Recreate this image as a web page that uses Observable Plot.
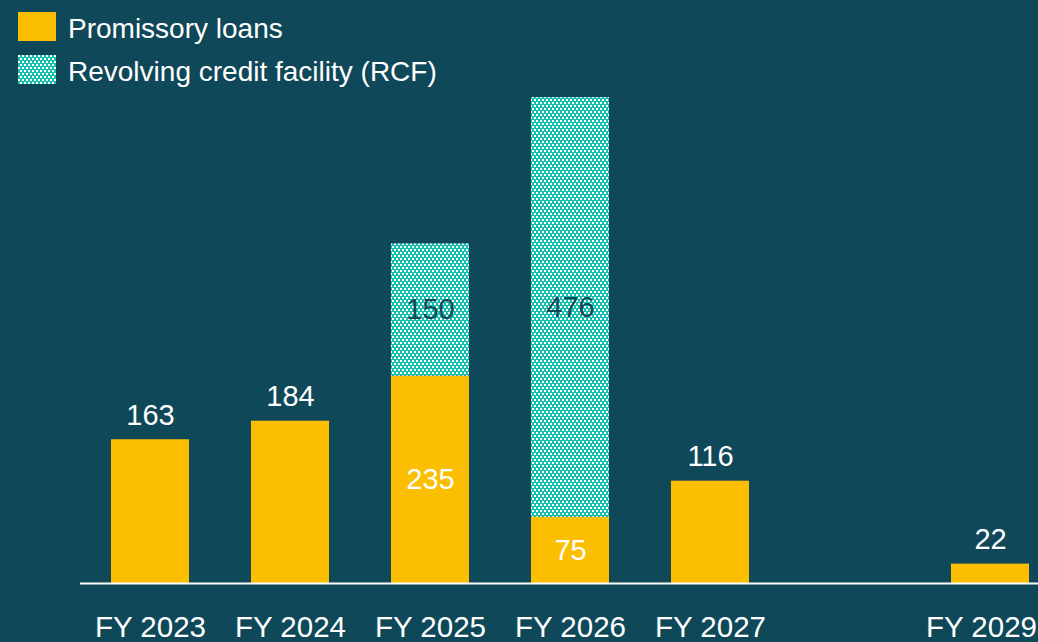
<!DOCTYPE html>
<html>
<head>
<meta charset="utf-8">
<script src="https://cdn.jsdelivr.net/npm/d3@7"></script>
<script src="https://cdn.jsdelivr.net/npm/@observablehq/plot@0.6"></script>
<style>
  html, body { margin: 0; padding: 0; background: #0f4859; }
  #wrap { position: relative; width: 1038px; height: 642px; overflow: hidden; font-family: "Liberation Sans", Arial, sans-serif; }
  #legend { position: absolute; left: 18px; top: 12px; color: #ffffff; font-size: 28px; }
  .item { display: flex; align-items: center; height: 29px; margin-bottom: 14px; }
  .item span { position: relative; top: 2px; }
  .sw { width: 38px; height: 29px; margin-right: 12px; display: block; }
</style>
</head>
<body>
<svg width="0" height="0" style="position:absolute">
  <defs>
    <pattern id="rcfPat" patternUnits="userSpaceOnUse" width="4" height="6">
      <rect width="4" height="6" fill="#14bfb0"></rect>
      <rect x="0" y="0" width="2" height="2" fill="#ffffff"></rect>
      <rect x="2" y="3" width="2" height="2" fill="#ffffff"></rect>
    </pattern>
  </defs>
</svg>
<div id="wrap">
  <div id="chart"></div>
  <div id="legend"></div>
</div>
<script>
const categories = ["FY 2023", "FY 2024", "FY 2025", "FY 2026", "FY 2027", "FY 2028", "FY 2029"];
const promissory = [163, 184, 235, 75, 116, 0, 22];
const rcf = [0, 0, 150, 476, 0, 0, 0];
const seriesNames = ["Promissory loans", "Revolving credit facility (RCF)"];

const YELLOW = "#fbbe00";
const BG = "#0f4859";

const rows = [];
categories.forEach((c, i) => {
  if (promissory[i] > 0) rows.push({cat: c, series: seriesNames[0], y1: 0, y2: promissory[i], v: promissory[i], stacked: rcf[i] > 0});
  if (rcf[i] > 0) rows.push({cat: c, series: seriesNames[1], y1: promissory[i], y2: promissory[i] + rcf[i], v: rcf[i], stacked: true});
});

const inside = rows.filter(d => d.stacked);
const above = rows.filter(d => !d.stacked);

const chart = Plot.plot({
  width: 1038,
  height: 642,
  marginTop: 0,
  marginBottom: 59,
  marginLeft: 80,
  marginRight: 0,
  style: {background: BG, fontFamily: "'Liberation Sans', Arial, sans-serif", overflow: "visible"},
  x: {type: "band", domain: categories, range: [80, 1060], paddingInner: 0.443, paddingOuter: 0.2215, align: 0.5, label: null},
  y: {domain: [0, 661], axis: null},
  marks: [
    Plot.rectY(rows, {
      x: "cat", y1: "y1", y2: "y2",
      fill: d => d.series === seriesNames[0] ? YELLOW : "url(#rcfPat)"
    }),
    Plot.ruleY([0], {stroke: "#ffffff", strokeWidth: 2}),
    Plot.text(inside, {
      x: "cat", y: d => (d.y1 + d.y2) / 2, text: d => String(d.v),
      fill: d => d.series === seriesNames[0] ? "#ffffff" : BG,
      fontSize: 29
    }),
    Plot.text(above, {
      x: "cat", y: "y2", text: d => String(d.v), dy: -24,
      fill: "#ffffff", fontSize: 29
    }),
    Plot.axisX({
      ticks: categories.filter(c => c !== "FY 2028" && c !== "FY 2029"),
      tickSize: 0, tickPadding: 33, fontSize: 29.5, color: "#ffffff", label: null
    }),
    Plot.axisX({
      ticks: ["FY 2029"],
      tickSize: 0, tickPadding: 33, fontSize: 29.5, color: "#ffffff", label: null, dx: -9
    })
  ]
});
document.getElementById("chart").appendChild(chart);

const legend = document.getElementById("legend");
seriesNames.forEach((name, i) => {
  const item = document.createElement("div");
  item.className = "item";
  const sw = document.createElementNS("http://www.w3.org/2000/svg", "svg");
  sw.setAttribute("class", "sw");
  sw.setAttribute("width", 38);
  sw.setAttribute("height", 29);
  const r = document.createElementNS("http://www.w3.org/2000/svg", "rect");
  r.setAttribute("width", 38);
  r.setAttribute("height", 29);
  r.setAttribute("fill", i === 0 ? YELLOW : "url(#rcfPat)");
  sw.appendChild(r);
  const label = document.createElement("span");
  label.textContent = name;
  item.appendChild(sw);
  item.appendChild(label);
  legend.appendChild(item);
});
</script>
</body>
</html>
